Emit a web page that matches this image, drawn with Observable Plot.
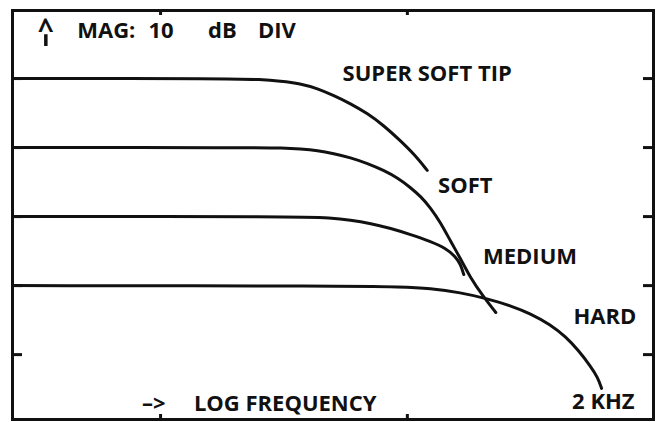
<!DOCTYPE html>
<html>
<head>
<meta charset="utf-8">
<script src="https://cdn.jsdelivr.net/npm/d3@7"></script>
<script src="https://cdn.jsdelivr.net/npm/@observablehq/plot@0.6"></script>
<style>
  html, body { margin: 0; padding: 0; background: #fff; }
  #chart svg { display: block; }
</style>
</head>
<body>
<div id="chart"></div>
<script>
// x: position along log-frequency axis (0–100 % of span); y: magnitude in dB (10 dB / div)
const superSoftX = [0, 34.0, 38.7, 41.8, 44.9, 47.6, 50.1, 52.7, 55.4, 57.9, 60.5, 62.7, 64.7];
const superSoftY = [0, 0, -0.14, -0.36, -0.72, -1.45, -2.46, -3.62, -5.07, -6.8, -9.0, -11.0, -13.3];
const softX = [0, 37.1, 42.3, 44.9, 47.6, 50.1, 52.7, 55.4, 57.9, 60.1, 62.1, 63.7, 65.2, 66.8, 68.3, 69.9, 71.4, 73.3, 75.4];
const softY = [-10, -10, -10.06, -10.2, -10.42, -10.86, -11.44, -12.3, -13.3, -14.4, -15.8, -17.1, -18.7, -20.9, -23.5, -26.1, -28.8, -31.4, -33.9];
const mediumX = [0, 44.9, 49.6, 52.7, 55.9, 59.0, 62.1, 65.2, 67.6, 69.1, 69.9, 70.4];
const mediumY = [-20, -20, -20.2, -20.5, -21.0, -21.7, -22.6, -23.6, -24.6, -25.8, -26.9, -28.4];
const hardX = [0, 52.7, 60.5, 65.2, 69.9, 74.1, 77.7, 80.8, 83.9, 86.3, 88.3, 90.2, 91.3, 91.9];
const hardY = [-30, -30.06, -30.2, -30.4, -31.0, -31.9, -32.9, -34.05, -35.65, -37.4, -39.4, -41.7, -43.3, -44.9];

const seriesNames = ["SUPER SOFT TIP", "SOFT", "MEDIUM", "HARD"];

// divisions (ticks on the frame)
const yTicks = [0, -10, -20, -30, -40];
const xTicks = [23.1, 61.6];

// text annotations
const labelText = ["SUPER SOFT TIP", "SOFT", "MEDIUM", "HARD", "2 KHZ", "MAG:", "10", "dB", "DIV", "–>", "LOG FREQUENCY", "^"];
const labelX    = [51.5, 66.4, 73.4, 87.5, 87.3, 10.1, 21.2, 30.5, 38.3, 20.2, 28.3, 5.2];
const labelY    = [0.65, -15.6, -25.9, -34.5, -46.9, 6.9, 6.9, 6.9, 6.9, -47.2, -47.2, 7.0];
const labelAnchor = ["start", "start", "start", "start", "start", "start", "start", "start", "start", "start", "start", "middle"];

// shaft of the magnitude-axis arrow (x, dB from, dB to)
const shaftX = [5.2];
const shaftY1 = [6.35];
const shaftY2 = [4.64];

const xDomain = [0, 100];
const yDomain = [-49.4, 9.86];

const rows = [];
[[superSoftX, superSoftY], [softX, softY], [mediumX, mediumY], [hardX, hardY]].forEach(([xs, ys], i) => {
  xs.forEach((x, j) => rows.push({series: seriesNames[i], x, y: ys[j]}));
});
const labels = labelText.map((t, i) => ({t, x: labelX[i], y: labelY[i], a: labelAnchor[i]}));
const shafts = shaftX.map((x, i) => ({x, y1: shaftY1[i], y2: shaftY2[i]}));

const W = 659, H = 422;
const mL = 12, mR = 6, mT = 10, mB = 3;
const pxPerX = (W - mL - mR) / (xDomain[1] - xDomain[0]);
const pxPerY = (H - mT - mB) / (yDomain[1] - yDomain[0]);
const tickLenX = 10 / pxPerX;
const tickLenY = 5 / pxPerY;

const font = {fontFamily: "'Open Sans', sans-serif", fontWeight: 700, fill: "#111"};

const chart = Plot.plot({
  width: W,
  height: H,
  marginLeft: mL,
  marginRight: mR,
  marginTop: mT,
  marginBottom: mB,
  x: {domain: xDomain, axis: null},
  y: {domain: yDomain, axis: null},
  marks: [
    Plot.ruleY(yTicks, {y: d => d, x1: xDomain[0], x2: xDomain[0] + tickLenX, stroke: "#111", strokeWidth: 3}),
    Plot.ruleY(yTicks, {y: d => d, x1: xDomain[1] - tickLenX, x2: xDomain[1], stroke: "#111", strokeWidth: 3}),
    Plot.ruleX(xTicks, {x: d => d, y1: yDomain[1], y2: yDomain[1] - tickLenY, stroke: "#111", strokeWidth: 3}),
    Plot.ruleX(xTicks, {x: d => d, y1: yDomain[0], y2: yDomain[0] + tickLenY, stroke: "#111", strokeWidth: 3}),
    Plot.line(rows, {x: "x", y: "y", z: "series", curve: "basis", stroke: "#111", strokeWidth: 3}),
    Plot.ruleX(shafts, {x: "x", y1: "y1", y2: "y2", stroke: "#111", strokeWidth: 3.5}),
    Plot.text(labels.filter(d => d.a === "start"), {x: "x", y: "y", text: "t", textAnchor: "start", fontSize: 22, ...font}),
    Plot.text(labels.filter(d => d.a === "middle"), {x: "x", y: "y", text: "t", textAnchor: "middle", fontSize: 28, ...font}),
    Plot.frame({stroke: "#111", strokeWidth: 3})
  ]
});
document.getElementById("chart").append(chart);
</script>
</body>
</html>
